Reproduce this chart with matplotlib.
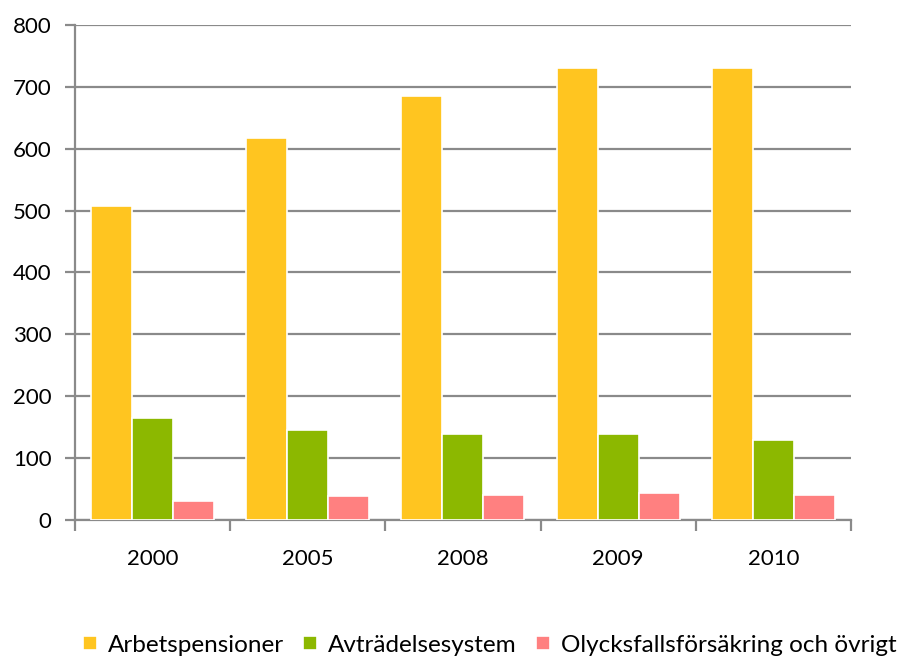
import matplotlib.pyplot as plt
import numpy as np

years = ['2000', '2005', '2008', '2009', '2010']
arbetspensioner = [507, 617, 685, 730, 730]
avtradelsesystem = [165, 145, 139, 139, 129]
olycksfall = [31, 39, 41, 43, 41]

series = ['Arbetspensioner', 'Avträdelsesystem', 'Olycksfallsförsäkring och övrigt']
colors = ['#FFC520', '#8CB800', '#FF8080']

plt.rcParams['font.family'] = 'Lato'

fig = plt.figure(figsize=(9.02, 6.61), dpi=100)
ax = fig.add_axes([0.0831, 0.2133, 0.8603, 0.7489])

x = np.arange(len(years))
w = 0.264
for i, (vals, col, lab) in enumerate(zip([arbetspensioner, avtradelsesystem, olycksfall], colors, series)):
    ax.bar(x + (i - 1) * w, vals, width=w, color=col, edgecolor='white', linewidth=1.2,
           label=lab, zorder=3)

grid_col = '#8a8a8a'
ax.set_ylim(0, 800)
ax.set_xlim(-0.5, 4.5)
ax.set_yticks(range(0, 801, 100))
ax.yaxis.grid(True, color=grid_col, linewidth=1.6, zorder=0)

ax.set_xticks(x)
ax.set_xticklabels(years)
ax.set_xticks(np.arange(-0.5, 5, 1), minor=True)
ax.tick_params(axis='x', which='major', length=0, pad=21, labelsize=16)
ax.tick_params(axis='x', which='minor', length=8, width=1.6, color=grid_col, direction='out')
ax.tick_params(axis='y', length=7, width=1.6, color=grid_col, labelsize=16, pad=10)

for s in ['top', 'right']:
    ax.spines[s].set_visible(False)
for s in ['left', 'bottom']:
    ax.spines[s].set_color(grid_col)
    ax.spines[s].set_linewidth(1.6)

fig.legend(loc='center', bbox_to_anchor=(0.543, 0.024), ncol=3, frameon=False,
           prop={'size': 17.5}, handlelength=0.56, handleheight=0.56,
           handletextpad=0.45, columnspacing=0.8)

plt.savefig('out.png', dpi=100)
